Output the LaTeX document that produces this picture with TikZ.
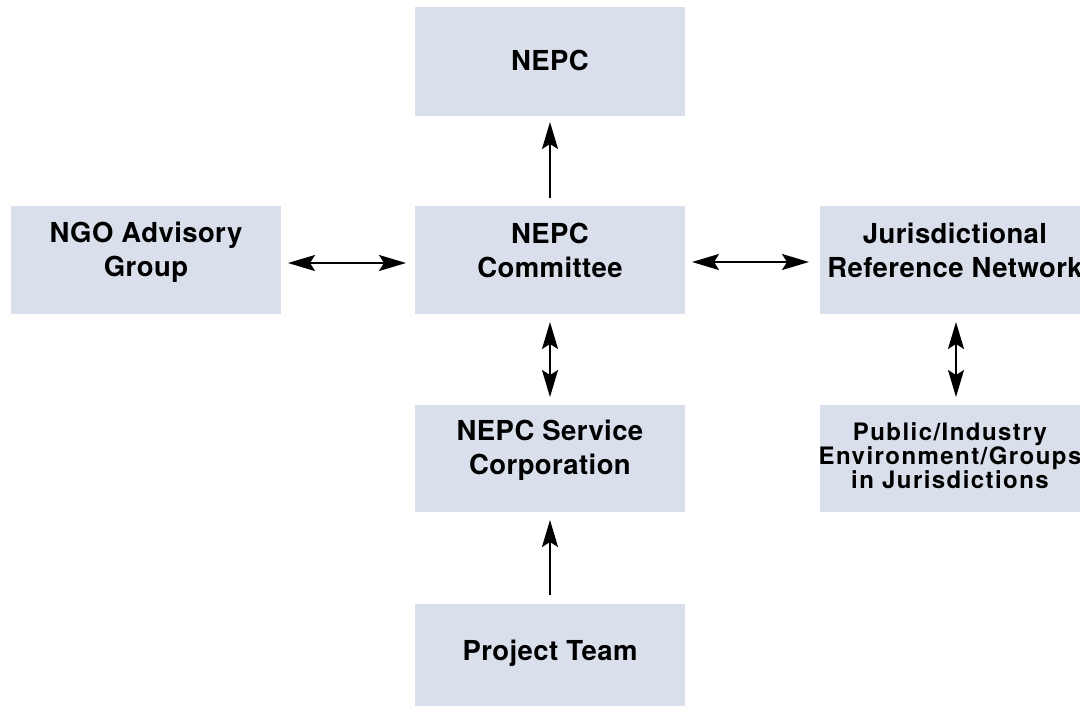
\documentclass[tikz,border=0pt]{standalone}
\usepackage{fontspec}
\setmainfont{TeX Gyre Heros}
\newfontfamily\boxfont[LetterSpace=1.5]{TeX Gyre Heros}
\newfontfamily\smallboxfont[LetterSpace=6]{TeX Gyre Heros}
\usetikzlibrary{arrows.meta}
\definecolor{boxfill}{RGB}{217,223,235}
\tikzset{
  box/.style={fill=boxfill, draw=none, minimum width=270pt, inner sep=0pt, outer sep=0pt},
  txt/.style={align=center, inner sep=0pt, font=\boxfont\fontsize{27.5}{34}\selectfont\bfseries},
  smalltxt/.style={align=center, inner sep=0pt, font=\smallboxfont\fontsize{24}{22.3}\selectfont\bfseries},
  conn/.style={line width=1.7pt, -{Stealth[length=27pt,width=16pt,inset=5pt]}},
  biconn/.style={line width=1.7pt, {Stealth[length=27pt,width=16pt,inset=5pt]}-{Stealth[length=27pt,width=16pt,inset=5pt]}}
}
\begin{document}
\begin{tikzpicture}[x=1pt,y=-1pt]
\useasboundingbox (0,0) rectangle (1080,706);
\clip (0,0) rectangle (1080,706);
% boxes
\node[box, minimum height=109pt] (nepc) at (550,61.5) {};
\node[box, minimum height=108pt] (ngo) at (146,260) {};
\node[box, minimum height=108pt] (com) at (550,260) {};
\node[box, minimum height=108pt] (jur) at (955,260) {};
\node[box, minimum height=107pt] (svc) at (550,458.5) {};
\node[box, minimum height=107pt] (pub) at (955,458.5) {};
\node[box, minimum height=108pt] (prj) at (550,658) {};
% texts
\node[txt] (nepct) at (550,60) {NEPC};
\node[txt] (ngot) at (146,252) {NGO Advisory\\Group};
\node[txt] (comt) at (550,250) {NEPC\\Committee};
\node[txt] (jurt) at (955,250) {Jurisdictional\\Reference Network};
\node[txt] (svct) at (550,450) {NEPC Service\\Corporation};
\node[smalltxt] (pubt) at (950,456) {Public/Industry\\Environment/Groups\\in Jurisdictions};
\node[txt] (prjt) at (550,653) {Project Team};
% connectors
\draw[conn, shorten <=8pt, shorten >=6pt] (com.north) -- (nepc.south);
\draw[biconn, shorten <=7pt, shorten >=9pt] ([yshift=-3pt]ngo.east) -- ([yshift=-3pt]com.west);
\draw[biconn, shorten <=7pt, shorten >=11pt] ([yshift=-2pt]com.east) -- ([yshift=-2pt]jur.west);
\draw[biconn, shorten <=8pt, shorten >=8pt] (com.south) -- (svc.north);
\draw[biconn, shorten <=8pt, shorten >=8pt] ([xshift=1pt]jur.south) -- ([xshift=1pt]pub.north);
\draw[conn, shorten <=9pt, shorten >=8pt] (prj.north) -- (svc.south);
\end{tikzpicture}
\end{document}
